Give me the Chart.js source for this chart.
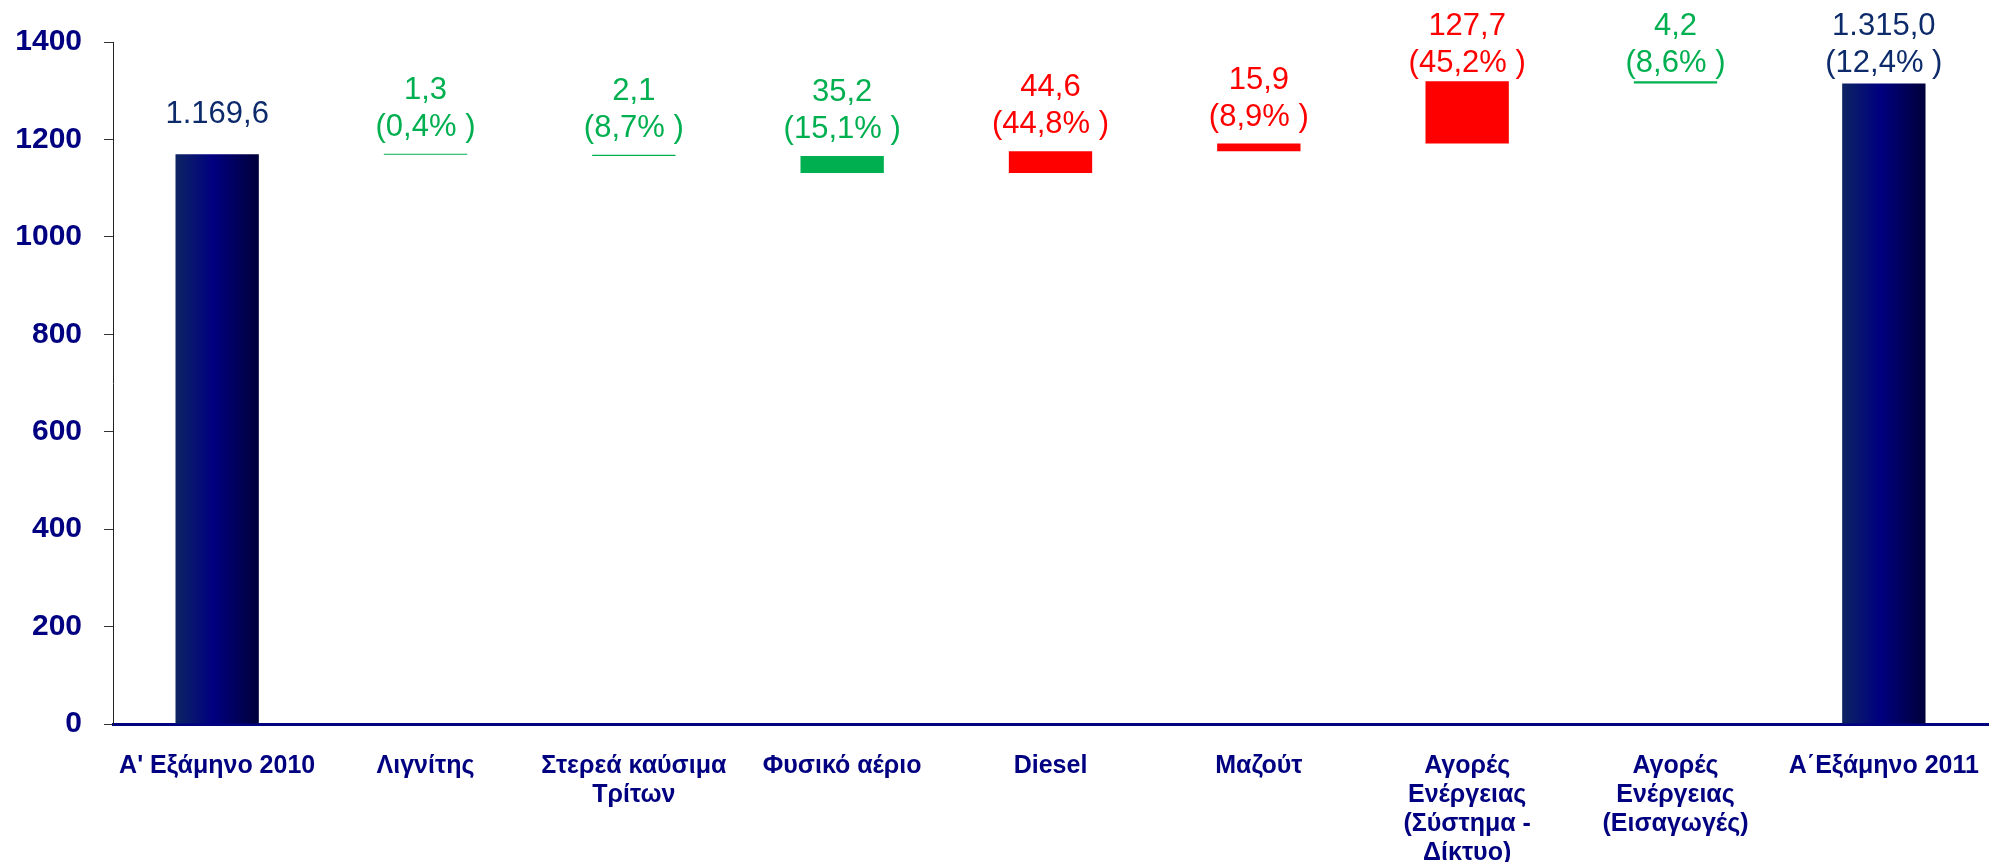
<!DOCTYPE html>
<html>
<head>
<meta charset="utf-8">
<title>Waterfall</title>
<script src="https://cdn.jsdelivr.net/npm/chart.js@4/dist/chart.umd.min.js"></script>
<style>
  html, body { margin: 0; padding: 0; background: #fff; overflow: hidden; }
  #wrap { width: 1991px; height: 862px; position: relative; }
</style>
</head>
<body>
<div id="wrap"><canvas id="waterfall"></canvas></div>
<script>
const categories = [
  "Α' Εξάμηνο 2010",
  "Λιγνίτης",
  ["Στερεά καύσιμα", "Τρίτων"],
  "Φυσικό αέριο",
  "Diesel",
  "Μαζούτ",
  ["Αγορές", "Ενέργειας", "(Σύστημα -", "Δίκτυο)"],
  ["Αγορές", "Ενέργειας", "(Εισαγωγές)"],
  "Α΄Εξάμηνο 2011"
];

// floating bars: bottom / top of each step
const barFrom = [0, 1169.6, 1168.3, 1166.2, 1131.0, 1175.6, 1191.5, 1319.2, 0];
const barTo = [1169.6, 1168.3, 1166.2, 1131.0, 1175.6, 1191.5, 1319.2, 1315.0, 1315.0];
const barKind = ["total", "down", "down", "down", "up", "up", "up", "down", "total"];

const valueLabels = ["1.169,6", "1,3", "2,1", "35,2", "44,6", "15,9", "127,7", "4,2", "1.315,0"];
const pctLabels = ["", "(0,4% )", "(8,7% )", "(15,1% )", "(44,8% )", "(8,9% )", "(45,2% )", "(8,6% )", "(12,4% )"];

const yTicks = [0, 200, 400, 600, 800, 1000, 1200, 1400];

const FONT = "'Liberation Sans', Arial, sans-serif";
const kindColor = { up: "#FF0000", down: "#00B050", total: "#0D2B6B" };

const barFill = (ctx) => {
  const i = ctx.dataIndex;
  if (barKind[i] !== "total") return kindColor[barKind[i]];
  const chart = ctx.chart;
  const xs = chart.scales.x;
  if (!xs || !chart.chartArea) return "#000080";
  const cx = xs.getPixelForValue(i);
  const half = (xs.width / categories.length) * 0.4 / 2;
  const g = chart.ctx.createLinearGradient(cx - half, 0, cx + half, 0);
  g.addColorStop(0, "#0C2462");
  g.addColorStop(0.45, "#000080");
  g.addColorStop(1, "#00003A");
  return g;
};

// two-line labels above every bar
const stepLabels = {
  id: "stepLabels",
  afterDatasetsDraw(chart) {
    const { ctx } = chart;
    const meta = chart.getDatasetMeta(0);
    ctx.save();
    ctx.font = "31px " + FONT;
    ctx.textAlign = "center";
    ctx.textBaseline = "alphabetic";
    meta.data.forEach((bar, i) => {
      const top = Math.min(bar.y, bar.base);
      ctx.fillStyle = kindColor[barKind[i]];
      if (!pctLabels[i]) {
        ctx.fillText(valueLabels[i], bar.x, top - 31);
        return;
      }
      const line1 = Math.max(top - 55, 35);
      ctx.fillText(valueLabels[i], bar.x, line1);
      ctx.fillText(pctLabels[i], bar.x, line1 + 37);
    });
    ctx.restore();
  }
};

const chartData = {
  labels: categories,
  datasets: [{
    data: barFrom.map((v, i) => [v, barTo[i]]),
    backgroundColor: barFill,
    borderWidth: 0,
    barPercentage: 0.4,
    categoryPercentage: 1.0,
    minBarLength: 1
  }]
};

new Chart(document.getElementById("waterfall"), {
  type: "bar",
  data: chartData,
  plugins: [stepLabels],
  options: {
    responsive: true,
    maintainAspectRatio: false,
    animation: false,
    layout: { padding: { top: 42, left: 15, right: 3, bottom: 0 } },
    plugins: {
      legend: { display: false },
      tooltip: { enabled: false }
    },
    scales: {
      x: {
        grid: { display: false, drawTicks: false },
        border: { display: true, color: "#000080", width: 3 },
        ticks: {
          color: "#000080",
          font: { family: FONT, size: 25, weight: "bold", lineHeight: 1.17 },
          padding: 27,
          maxRotation: 0,
          autoSkip: false
        },
        afterFit: (scale) => {
          scale.height = 138;
          scale.paddingLeft = 0;
          scale.paddingRight = 0;
        }
      },
      y: {
        min: 0,
        max: 1400,
        afterBuildTicks: (scale) => { scale.ticks = yTicks.map((v) => ({ value: v })); },
        afterFit: (scale) => { scale.width = 98; },
        grid: { drawOnChartArea: false, drawTicks: true, tickLength: 9, color: "#333" },
        border: { display: true, color: "#222", width: 1 },
        ticks: {
          color: "#000080",
          font: { family: FONT, size: 30, weight: "bold" },
          padding: 22,
          callback: (v) => String(v)
        }
      }
    }
  }
});
</script>
</body>
</html>
